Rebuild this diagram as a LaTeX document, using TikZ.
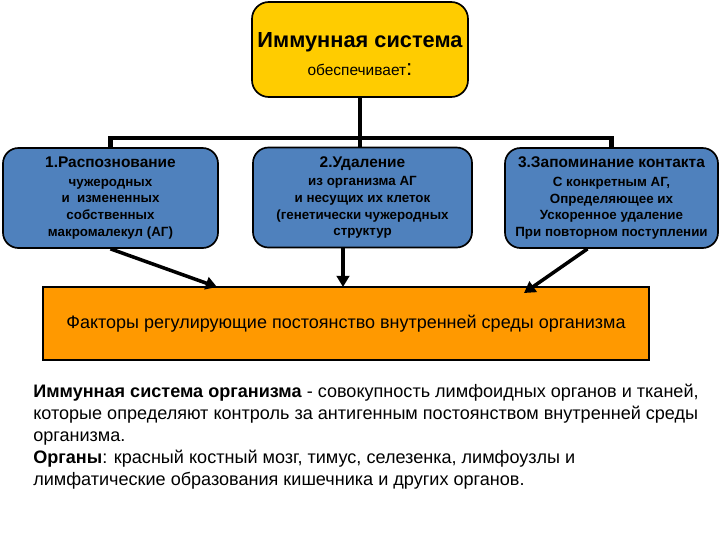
\documentclass[tikz,border=0pt]{standalone}
\usepackage{fontspec}
\setmainfont{Liberation Sans}
\usetikzlibrary{arrows.meta}
\definecolor{sysYellow}{RGB}{255,204,0}
\definecolor{funcBlue}{RGB}{79,129,189}
\definecolor{factOrange}{RGB}{255,153,0}

\begin{document}
\begin{tikzpicture}[
  funcbox/.style={draw=black,line width=1.2pt,fill=funcBlue,rounded corners=11pt,minimum height=2.5cm,align=center,inner sep=2pt,font=\bfseries\fontsize{9.5}{11.8}\selectfont},
  bus/.style={line width=3.5pt},
  ptr/.style={line width=2.5pt,-{Triangle[length=8pt,width=9pt]}}
]
\useasboundingbox (0,0) rectangle (18,-13.5);
\node[draw=black,line width=1.2pt,fill=sysYellow,rounded corners=12pt,minimum width=5.4cm,minimum height=2.375cm,align=center] (imm) at (9.0,-1.2375) {{\bfseries\fontsize{15.5}{19}\selectfont\rule{0pt}{17pt}Иммунная система}\\[8pt]{\fontsize{11}{13}\selectfont обеспечивает{\fontsize{16}{13}\selectfont:}}};
\node[funcbox,minimum width=5.375cm] (rec) at (2.7625,-4.95) {{\fontsize{11}{13}\selectfont 1.Распознование}\\[1.5pt]чужеродных\\и~~измененных\\собственных\\макромалекул (АГ)};
\node[funcbox,minimum width=5.475cm] (del) at (9.0625,-4.9375) {{\fontsize{11}{13}\selectfont 2.Удаление}\\[1.5pt]из организма АГ\\и несущих их клеток\\(генетически чужеродных\\структур};
\node[funcbox,minimum width=5.325cm] (mem) at (15.2875,-4.95) {{\fontsize{11}{13}\selectfont 3.Запоминание контакта}\\[1.5pt]С конкретным АГ,\\Определяющее их\\Ускоренное удаление\\При повторном поступлении};
\node[draw=black,line width=0.8pt,fill=factOrange,minimum width=15.15cm,minimum height=1.825cm,font=\fontsize{12.8}{15}\selectfont] (fac) at (8.65,-8.0875) {Факторы регулирующие постоянство внутренней среды организма};
\node[anchor=north west,align=left,inner sep=0pt,font=\fontsize{12.85}{15.6}\selectfont] (def) at (0.825,-9.6) {\textbf{Иммунная система организма} - совокупность лимфоидных органов и тканей,\\которые определяют контроль за антигенным постоянством внутренней среды\\организма.\\\textbf{Органы}: красный костный мозг, тимус, селезенка, лимфоузлы и\\лимфатические образования кишечника и других органов.};
\coordinate (hub) at (9,-3.45);
\coordinate (t1) at (5.425,-7.175);
\coordinate (t2) at (8.575,-7.175);
\coordinate (t3) at (13.1,-7.325);
\draw[bus] (imm.south) -- (imm.south |- del.north);
\draw[bus] (rec.north) |- (hub) -| (mem.north);
\draw[ptr] (rec.south) -- (t1);
\draw[ptr] (del.south -| t2) -- (t2);
\draw[ptr] ([xshift=-0.6cm]mem.south) -- (t3);
\end{tikzpicture}
\end{document}
